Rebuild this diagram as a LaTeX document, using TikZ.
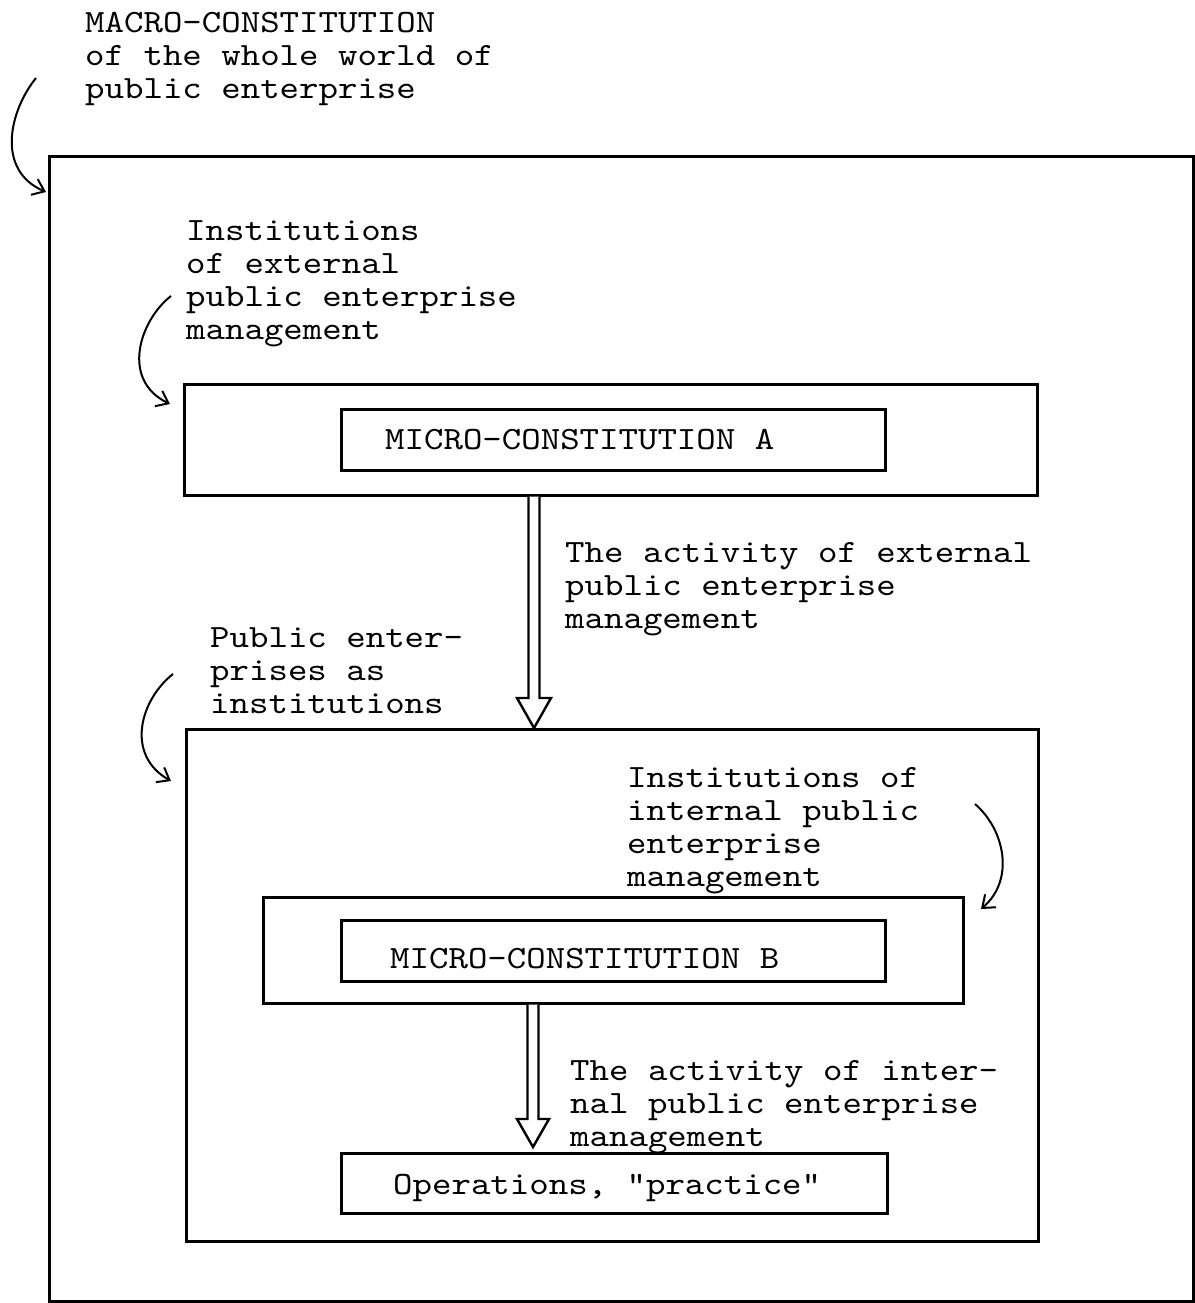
\documentclass[tikz,border=0pt]{standalone}
\usepackage{fontspec}
\newfontfamily\tw{lmmono10-regular}[Extension=.otf, FakeStretch=1.14]
\usetikzlibrary{calc,arrows.meta}
\tikzset{
  frame/.style={draw, line width=2.6pt, inner sep=0pt, anchor=north west},
  lbl/.style={font=\tw\fontsize{32.5}{33}\selectfont, align=left, inner sep=0pt, anchor=north west},
  boxtext/.style={font=\tw\fontsize{32.5}{33}\selectfont, inner sep=0pt, anchor=base west},
  curv/.style={line width=2pt, -{Straight Barb[length=11pt,width=17pt,line width=2pt]}},
  hollow/.style={draw, fill=white, line width=2.4pt, line join=miter},
}
\newcommand{\fst}{\rule{0pt}{26pt}}
\begin{document}
\begin{tikzpicture}[x=1pt,y=-1pt]
\useasboundingbox (0,0) rectangle (1194,1303);
% boxes
\node[frame, minimum width=1144, minimum height=1145] (outer) at (48,155) {};
\node[frame, minimum width=853, minimum height=111] (boxA) at (183,383) {};
\node[frame, minimum width=544, minimum height=61] (microA) at (340,408) {};
\node[frame, minimum width=852, minimum height=512] (pub) at (185,728) {};
\node[frame, minimum width=700, minimum height=106] (boxB) at (262,896) {};
\node[frame, minimum width=544, minimum height=61] (microB) at (340,919) {};
\node[frame, minimum width=546, minimum height=60] (ops) at (340,1152) {};
% box texts
\node[boxtext] (tA) at (385,449) {MICRO-CONSTITUTION A};
\node[boxtext] (tB) at (390,968) {MICRO-CONSTITUTION B};
\node[boxtext] (tO) at (393,1194) {Operations, "practice"};
% labels
\node[lbl] (macro) at (85,6) {\fst MACRO-CONSTITUTION\\of the whole world of\\public enterprise};
\node[lbl] (instext) at (186,214) {\fst Institutions\\of external\\public enterprise\\management};
\node[lbl] (actext) at (565,536) {\fst The activity of external\\public enterprise\\management};
\node[lbl] (pubinst) at (210,621) {\fst Public enter-\\prises as\\institutions};
\node[lbl] (insint) at (627,761) {\fst Institutions of\\internal public\\enterprise\\management};
\node[lbl] (actint) at (570,1054) {\fst The activity of inter-\\nal public enterprise\\management};
% hollow arrows
\coordinate (ax1) at (534,0);
\coordinate (ax2) at (533,0);
\path[hollow] ($(ax1 |- boxA.south)+(-5.5,0)$) -- ($(ax1 |- pub.north)+(-5.5,-30)$)
  -- ($(ax1 |- pub.north)+(-17,-30)$) -- (ax1 |- pub.north)
  -- ($(ax1 |- pub.north)+(17,-30)$) -- ($(ax1 |- pub.north)+(5.5,-30)$)
  -- ($(ax1 |- boxA.south)+(5.5,0)$);
\coordinate (tip2) at ($(ax2 |- ops.north)+(0,-5)$);
\path[hollow] ($(ax2 |- boxB.south)+(-5.5,0)$) -- ($(tip2)+(-5.5,-28)$)
  -- ($(tip2)+(-16,-28)$) -- (tip2)
  -- ($(tip2)+(16,-28)$) -- ($(tip2)+(5.5,-28)$)
  -- ($(ax2 |- boxB.south)+(5.5,0)$);
% curved pointer arrows
\coordinate (c1s) at (36,78);  \coordinate (c1e) at (46,192);
\coordinate (c2s) at (171,296); \coordinate (c2e) at (170,404);
\coordinate (c3s) at (173,674); \coordinate (c3e) at (171,781);
\coordinate (c4s) at (975,804); \coordinate (c4e) at (981,909);
\draw[curv] (c1s) .. controls (10,110) and (-5,170) .. (c1e);
\draw[curv] (c2s) .. controls (140,320) and (120,380) .. (c2e);
\draw[curv] (c3s) .. controls (140,700) and (125,755) .. (c3e);
\draw[curv] (c4s) .. controls (1005,830) and (1015,880) .. (c4e);
\end{tikzpicture}
\end{document}
